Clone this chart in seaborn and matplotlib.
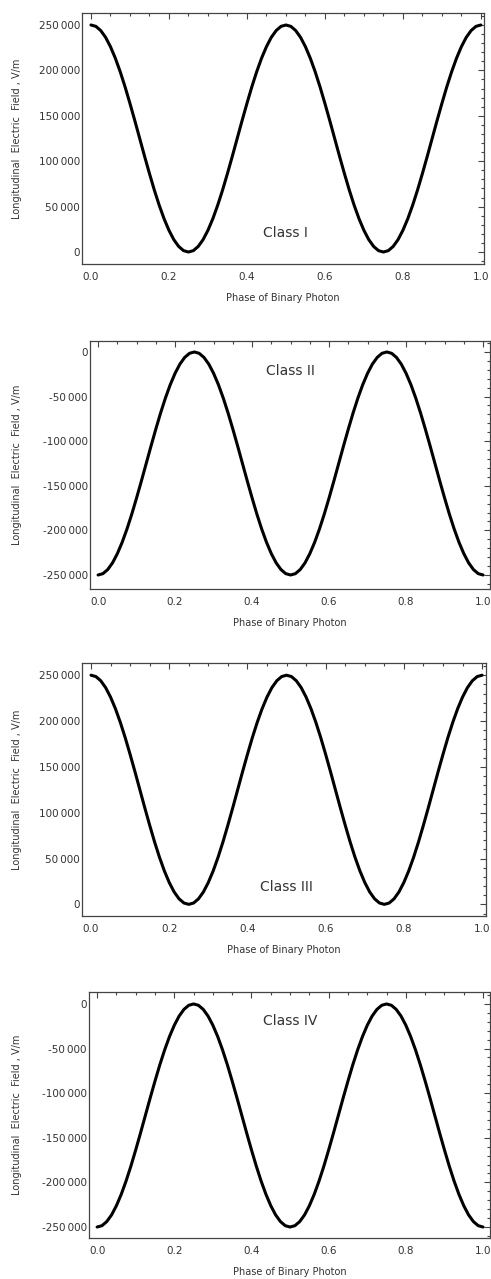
import numpy as np
import matplotlib
matplotlib.use("Agg")
import matplotlib.pyplot as plt
from matplotlib.ticker import MultipleLocator, FuncFormatter
import seaborn as sns

sns.set_theme(style="white")
plt.rcParams['font.family'] = ['DejaVu Sans']

# ---------------- data ----------------
phase = np.linspace(0.0, 1.0, 81)

half_wave = [250000, 248500, 243900, 236400, 226100, 213400, 198500, 181800,
             163600, 144600, 125000, 105400, 86400, 68200, 51500, 36600,
             23900, 13600, 6100, 1500, 0, 1500, 6100, 13600, 23900, 36600,
             51500, 68200, 86400, 105400, 125000, 144600, 163600, 181800,
             198500, 213400, 226100, 236400, 243900, 248500]

class_i = half_wave + half_wave + [250000]
class_ii = [-v for v in class_i]
class_iii = list(class_i)
class_iv = list(class_ii)

series = [class_i, class_ii, class_iii, class_iv]
class_names = ["Class I", "Class II", "Class III", "Class IV"]
label_pos = [(0.5, 21000), (0.5, -21000), (0.5, 18700), (0.5, -19000)]

x_label = "Phase of Binary Photon"
y_label = "Longitudinal  Electric  Field , V/m"

# ---------------- layout (pixels) ----------------
W, H = 491, 1279
boxes = [(82, 484, 13, 264), (90, 490, 341, 589),
         (82, 486, 663, 916), (89, 490, 992, 1238)]
xlims = [(-0.023, 1.008), (-0.021, 1.018), (-0.023, 1.010), (-0.021, 1.018)]
ylims = [(-13200, 263200), (-265700, 12300), (-12700, 263300), (-262300, 13400)]

fig = plt.figure(figsize=(W / 100, H / 100), dpi=100)

def fmt(v, pos):
    iv = int(round(v))
    s = f"{abs(iv):,}".replace(",", "\u2009")
    return ("-" if iv < 0 else "") + s

for i, (vals, name, lp, box, xl, yl) in enumerate(
        zip(series, class_names, label_pos, boxes, xlims, ylims)):
    l, r, t, b = box
    ax = fig.add_axes([l / W, 1 - b / H, (r - l) / W, (b - t) / H])
    sns.lineplot(x=phase, y=vals, ax=ax, color="black", linewidth=2.2)
    ax.set_xlim(*xl)
    ax.set_ylim(*yl)
    ax.xaxis.set_major_locator(MultipleLocator(0.2))
    ax.xaxis.set_minor_locator(MultipleLocator(0.05))
    ax.yaxis.set_major_locator(MultipleLocator(50000))
    ax.yaxis.set_minor_locator(MultipleLocator(10000))
    ax.xaxis.set_major_formatter(FuncFormatter(lambda v, p: f"{v:.1f}"))
    ax.yaxis.set_major_formatter(FuncFormatter(fmt))
    ax.tick_params(which="both", direction="in", top=True, right=True,
                   colors="#444444", labelcolor="#333333", width=0.8)
    ax.tick_params(which="major", length=4.0, labelsize=7.5)
    ax.tick_params(which="minor", length=2.2)
    ax.tick_params(axis="x", which="major", pad=6)
    ax.tick_params(axis="y", which="major", pad=1.5)
    for sp in ax.spines.values():
        sp.set_color("#444444")
        sp.set_linewidth(0.9)
    ax.set_xlabel(x_label, fontsize=7.0, color="#333333")
    ax.set_ylabel(y_label, fontsize=7.0, color="#333333")
    ax.yaxis.set_label_coords((22 - l) / (r - l), 0.5)
    ax.xaxis.set_label_coords(0.5, -29 / (b - t))
    ax.text(lp[0], lp[1], name, ha="center", va="center", fontsize=10,
            color="#333333")
    ax.grid(False)

fig.savefig("out.png", dpi=100)
